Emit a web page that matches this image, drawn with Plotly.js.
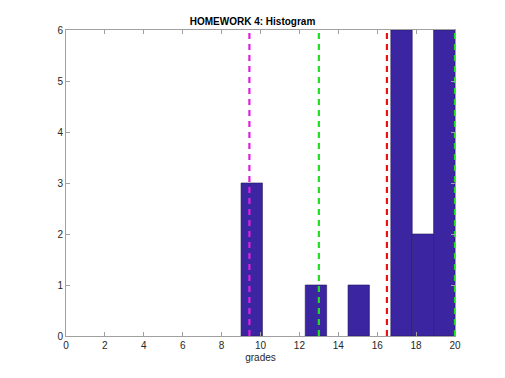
<!DOCTYPE html>
<html><head><meta charset="utf-8">
<script src="https://cdn.plot.ly/plotly-3.0.1.min.js"></script>
<style>html,body{margin:0;padding:0;background:#fff}#c{width:505px;height:378px}</style>
</head><body><div id="c"></div>
<script>
const binEdges = [9, 10.1, 11.2, 12.3, 13.4, 14.5, 15.6, 16.7, 17.8, 18.9, 20];
const counts = [3, 0, 0, 1, 0, 1, 0, 6, 2, 6];
const lineValues = [9.43, 13, 16.5, 20];
const lineColors = ['#e01ee0', '#22dd22', '#ee1111', '#22dd22'];
const xTicks = [0, 2, 4, 6, 8, 10, 12, 14, 16, 18, 20];
const yTicks = [0, 1, 2, 3, 4, 5, 6];

const centers = counts.map((c, i) => (binEdges[i] + binEdges[i + 1]) / 2);
const widths = counts.map((c, i) => binEdges[i + 1] - binEdges[i]);
const edgeWidths = counts.map(c => c > 0 ? 0.6 : 0);

const traces = [{
  type: 'bar', x: centers, y: counts, width: widths,
  marker: {color: '#3b25a1', line: {color: '#24195e', width: edgeWidths}},
  hoverinfo: 'skip', showlegend: false
}];
lineValues.forEach((v, i) => traces.push({
  type: 'scatter', mode: 'lines', x: [v, v], y: [0, 6],
  line: {color: lineColors[i], width: 2.2, dash: '6px,5px'},
  showlegend: false, hoverinfo: 'skip', cliponaxis: false
}));

const font = 'Liberation Sans, Arial, sans-serif';
const axisCommon = {
  showgrid: false, zeroline: false, showline: true, linecolor: '#a0a0a0', linewidth: 1,
  mirror: 'ticks', ticks: 'inside', ticklen: 4, tickcolor: '#a0a0a0',
  tickfont: {family: font, size: 10, color: '#262626'}
};
const layout = {
  width: 505, height: 378,
  margin: {l: 66, r: 50, t: 30, b: 42},
  paper_bgcolor: '#fff', plot_bgcolor: '#fff',
  title: {text: '<b>HOMEWORK 4: Histogram</b>', x: 0.5, xanchor: 'center', y: 0.942, yanchor: 'middle',
          font: {family: font, size: 10, color: '#000'}},
  bargap: 0,
  xaxis: Object.assign({}, axisCommon, {range: [0, 20], tickvals: xTicks, ticktext: xTicks.map(String),
    title: {text: 'grades', standoff: 3, font: {family: font, size: 10, color: '#262626'}}}),
  yaxis: Object.assign({}, axisCommon, {range: [0, 6], tickvals: yTicks, ticktext: yTicks.map(String)})
};
Plotly.newPlot('c', traces, layout, {displayModeBar: false, staticPlot: true});
</script></body></html>
